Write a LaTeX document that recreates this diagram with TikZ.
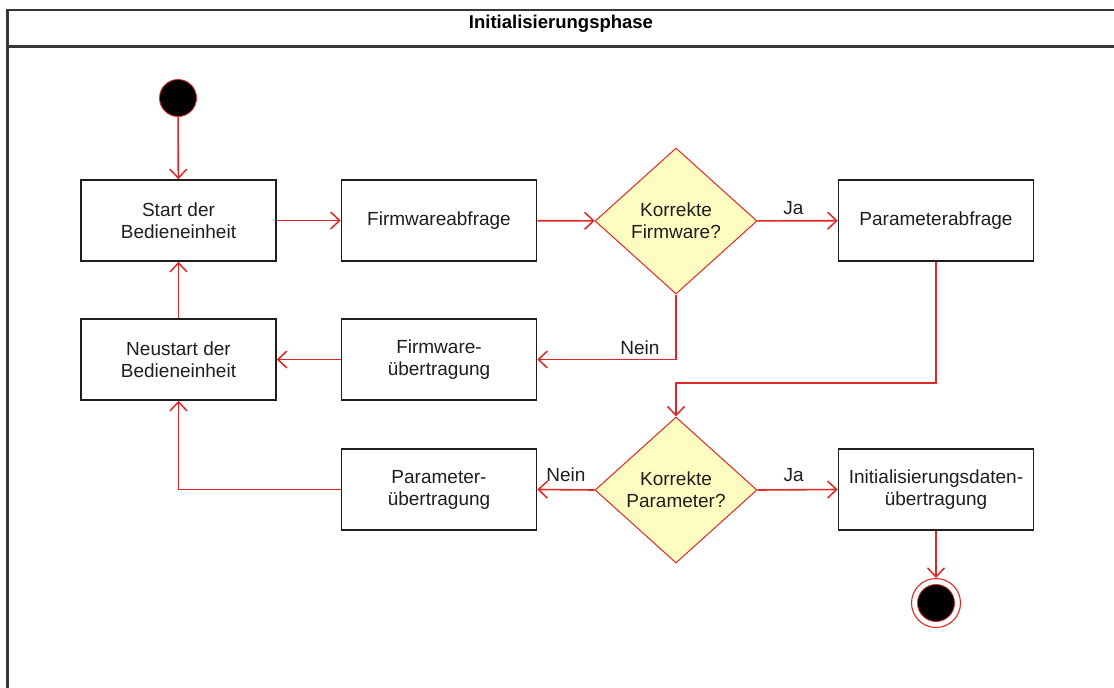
\documentclass[tikz,border=0pt]{standalone}
\usepackage{fontspec}
\setmainfont{Liberation Sans}
\usetikzlibrary{shapes.geometric,arrows.meta}
\definecolor{lred}{RGB}{226,38,38}
\definecolor{dfill}{RGB}{255,252,194}
\definecolor{tgray}{RGB}{30,30,30}
\definecolor{framec}{RGB}{55,55,55}
\begin{document}
\begin{tikzpicture}[x=1pt,y=-1pt,
  txt/.style={font=\fontsize{19}{22}\selectfont, text=tgray},
  act/.style={txt, draw=tgray, line width=1.6pt, minimum width=195pt, minimum height=81pt, align=center, inner sep=0pt},
  dec/.style={txt, diamond, draw=lred, fill=dfill, line width=1pt, minimum width=162pt, minimum height=146pt, aspect=1.1, inner sep=0pt, align=center},
  flow/.style={draw=lred, line width=1.6pt, -{Straight Barb[length=9pt,width=17pt,line width=1.5pt]}},
  lab/.style={txt}]
\useasboundingbox (0,0) rectangle (1114,688);
\clip (0,0) rectangle (1114,688);
\fill[white] (0,0) rectangle (1114,688);
\draw[line width=2.2pt, draw=framec] (7.5,10) rectangle (1125,700);
\draw[line width=2.2pt, draw=framec] (7.5,46.5) -- (1125,46.5);
\node[font=\fontsize{18.5}{22}\selectfont\bfseries, text=black] (title) at (561,24) {Initialisierungsphase};

\node[circle, fill=black, draw=lred, line width=0.8pt, minimum size=37pt, inner sep=0pt] (s) at (178,98) {};
\node[act] (start) at (178.5,220.5) {Start der\\Bedieneinheit};
\node[act] (fwq) at (439,220.5) {Firmwareabfrage};
\node[dec] (d1) at (676,221) {Korrekte\\Firmware?};
\node[act] (paq) at (936,220.5) {Parameterabfrage};
\node[act] (neu) at (178.5,359.5) {Neustart der\\Bedieneinheit};
\node[act] (fwu) at (439,359.5) {Firmware-\\übertragung};
\node[dec] (d2) at (676,490) {Korrekte\\Parameter?};
\node[act] (pu) at (439,489.5) {Parameter-\\übertragung};
\node[act] (init) at (936,489.5) {Initialisierungsdaten-\\übertragung};
\node[circle, draw=lred, fill=white, line width=1.1pt, minimum size=49pt, inner sep=0pt] (e) at (936,603) {};
\node[circle, fill=black, draw=lred, line width=0.8pt, minimum size=37pt, inner sep=0pt] (ein) at (936,603) {};
\coordinate (k) at (936,383);

\draw[flow] (s) -- (start);
\draw[flow] (start) -- (fwq);
\draw[flow] (fwq) -- (d1);
\draw[flow] (d1) -- node[lab, above=2pt, pos=0.45] {Ja} (paq);
\draw[flow] (d1.south) |- node[lab, above=1pt, pos=0.63] {Nein} (fwu.east);
\draw[flow] (fwu) -- (neu);
\draw[flow] (neu) -- (start);
\draw[flow] (paq.south) -- (k) -| (d2.north);
\draw[flow] (d2.west) -- node[lab, above=4pt] {Nein} (pu.east);
\draw[flow] (d2.east) -- node[lab, above=4pt, pos=0.45] {Ja} (init.west);
\draw[flow] (pu.west) -| (neu.south);
\draw[flow] (init.south) -- (e.north);
\end{tikzpicture}
\end{document}
